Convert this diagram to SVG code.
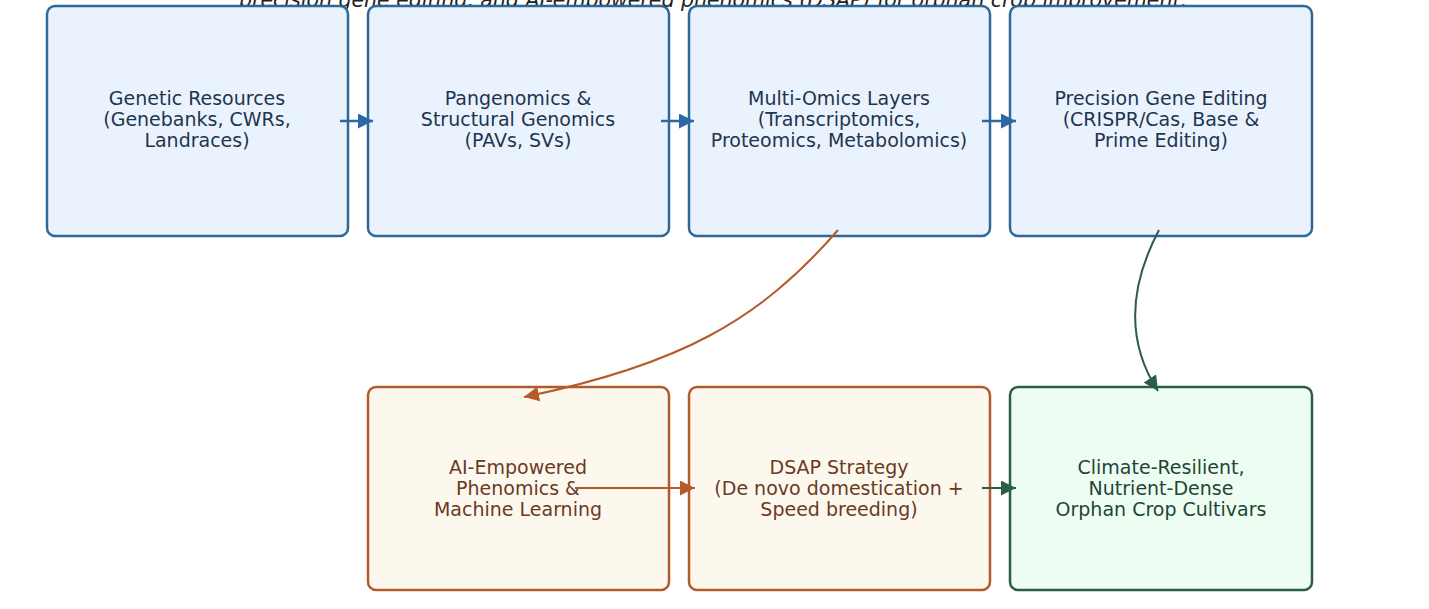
<svg xmlns="http://www.w3.org/2000/svg" width="1429" height="609" viewBox="0 0 1429 609">
<style>
text{font-family:"DejaVu Sans","Liberation Sans",sans-serif;font-size:19px;text-anchor:middle}
.b rect{fill:#eaf3fd;stroke:#2f6896;stroke-width:2.5}
.b text{fill:#1e3550}
.o rect{fill:#fdf8ee;stroke:#b35a2c;stroke-width:2.5}
.o text{fill:#6b3a1f}
.g rect{fill:#edfdf2;stroke:#2a5e45;stroke-width:2.5}
.g text{fill:#1f4535}
.title{font-style:italic;font-size:20.5px;fill:#222}
.cb{stroke:#2e68a4;stroke-width:2.5;fill:none}
.co{stroke:#b55a2a;stroke-width:2;fill:none}
.cg{stroke:#2a5e45;stroke-width:2;fill:none}
</style>
<defs>
<marker id="ab" viewBox="0 0 10 10" refX="10" refY="5" markerWidth="6" markerHeight="6" markerUnits="strokeWidth" orient="auto"><path d="M0,0L10,5L0,10z" fill="#2e68a4"/></marker>
<marker id="ao" viewBox="0 0 10 10" refX="10" refY="5" markerWidth="7.5" markerHeight="7.5" markerUnits="strokeWidth" orient="auto"><path d="M0,0L10,5L0,10z" fill="#b55a2a"/></marker>
<marker id="ag" viewBox="0 0 10 10" refX="10" refY="5" markerWidth="7.5" markerHeight="7.5" markerUnits="strokeWidth" orient="auto"><path d="M0,0L10,5L0,10z" fill="#2a5e45"/></marker>
</defs>
<rect width="1429" height="609" fill="#fff"/>
<text class="title" x="713" y="7">precision gene editing, and AI-empowered phenomics (DSAP) for orphan crop improvement.</text>
<g id="n1" class="b"><rect x="47" y="6" width="301" height="230" rx="8"/><text x="197" y="105">Genetic Resources</text><text x="197" y="126">(Genebanks, CWRs,</text><text x="197" y="147">Landraces)</text></g>
<g id="n2" class="b"><rect x="368" y="6" width="301" height="230" rx="8"/><text x="518" y="105">Pangenomics &amp;</text><text x="518" y="126">Structural Genomics</text><text x="518" y="147">(PAVs, SVs)</text></g>
<g id="n3" class="b"><rect x="689" y="6" width="301" height="230" rx="8"/><text x="839" y="105">Multi-Omics Layers</text><text x="839" y="126">(Transcriptomics,</text><text x="839" y="147">Proteomics, Metabolomics)</text></g>
<g id="n4" class="b"><rect x="1010" y="6" width="302" height="230" rx="8"/><text x="1161" y="105">Precision Gene Editing</text><text x="1161" y="126">(CRISPR/Cas, Base &amp;</text><text x="1161" y="147">Prime Editing)</text></g>
<g id="n5" class="o"><rect x="368" y="387" width="301" height="203" rx="8"/><text x="518" y="474">AI-Empowered</text><text x="518" y="495">Phenomics &amp;</text><text x="518" y="516">Machine Learning</text></g>
<g id="n6" class="o"><rect x="689" y="387" width="301" height="203" rx="8"/><text x="839" y="474">DSAP Strategy</text><text x="839" y="495">(De novo domestication +</text><text x="839" y="516">Speed breeding)</text></g>
<g id="n7" class="g"><rect x="1010" y="387" width="302" height="203" rx="8"/><text x="1161" y="474">Climate-Resilient,</text><text x="1161" y="495">Nutrient-Dense</text><text x="1161" y="516">Orphan Crop Cultivars</text></g>
<g id="connectors">
<path class="cb" d="M340,121H373" marker-end="url(#ab)"/>
<path class="cb" d="M661,121H694" marker-end="url(#ab)"/>
<path class="cb" d="M982,121H1016" marker-end="url(#ab)"/>
<path class="co" d="M838,230C760,320 680,365 524,397" marker-end="url(#ao)"/>
<path class="cg" d="M1159,230C1130,285 1125,340 1158,391" marker-end="url(#ag)"/>
<path class="co" d="M575,488H695" marker-end="url(#ao)"/>
<path class="cg" d="M982,488H1016" marker-end="url(#ag)"/>
</g>
</svg>
